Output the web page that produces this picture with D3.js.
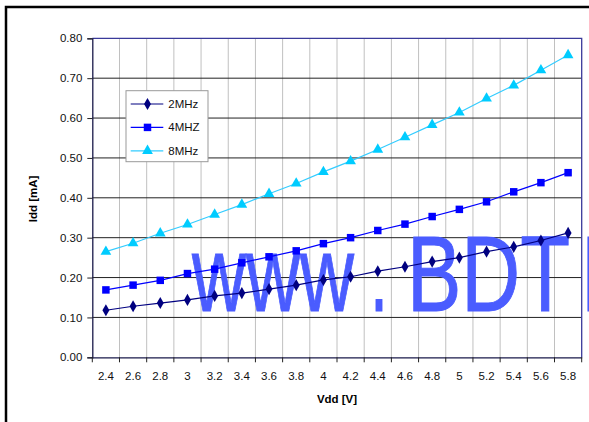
<!DOCTYPE html>
<html><head><meta charset="utf-8">
<script src="https://cdn.jsdelivr.net/npm/d3@7"></script>
<style>
html,body{margin:0;padding:0;background:#fff;}
svg{display:block;font-family:"Liberation Sans",Arial,sans-serif;}
</style></head>
<body>
<svg id="chart" width="589" height="422"></svg>
<script>
const categories = ["2.4","2.6","2.8","3","3.2","3.4","3.6","3.8","4","4.2","4.4","4.6","4.8","5","5.2","5.4","5.6","5.8"];
const series2MHz = [0.118,0.128,0.136,0.144,0.154,0.161,0.171,0.181,0.194,0.202,0.216,0.227,0.240,0.250,0.265,0.277,0.293,0.312];
const series4MHz = [0.169,0.181,0.193,0.210,0.221,0.237,0.252,0.267,0.285,0.300,0.318,0.334,0.353,0.371,0.390,0.415,0.438,0.463];
const series8MHz = [0.265,0.286,0.311,0.333,0.358,0.383,0.410,0.436,0.465,0.492,0.521,0.552,0.583,0.614,0.649,0.682,0.720,0.758];
const seriesNames = ["2MHz","4MHZ","8MHz"];
const yTicks = [0,0.1,0.2,0.3,0.4,0.5,0.6,0.7,0.8];
const xTitle = "Vdd [V]";
const yTitle = "Idd [mA]";
const watermarkParts = ["www", ".", "BDT", "I"];

const svg = d3.select("#chart");
const L = 92.3, R = 581.7, T = 38.3, B = 357.3;
const x = d3.scaleBand().domain(categories).range([L, R]).padding(0);
const y = d3.scaleLinear().domain([0, 0.8]).range([B, T]);

// outer frame
svg.append("rect").attr("x",6).attr("y",7).attr("width",600).attr("height",430)
  .attr("fill","none").attr("stroke","#000").attr("stroke-width",2.5);

// vertical gridlines at category boundaries
svg.append("g").selectAll("line").data(categories.slice(1)).join("line")
  .attr("x1", d => x(d)).attr("x2", d => x(d)).attr("y1", T).attr("y2", B)
  .attr("stroke","#c0c0c0").attr("stroke-width",1);

// horizontal gridlines
svg.append("g").selectAll("line").data(yTicks.slice(1, -1)).join("line")
  .attr("x1", L).attr("x2", R).attr("y1", d => y(d)).attr("y2", d => y(d))
  .attr("stroke","#222").attr("stroke-width",1);

// watermark
const wmLayout = [
  {x: 192, len: 162},
  {x: 370, len: 18},
  {x: 407, len: 163},
  {x: 578, len: 30}
];
const wm = svg.append("g").attr("fill", "#4a5cff").attr("stroke", "#4a5cff").attr("stroke-width", 1)
  .attr("font-size", 108).attr("font-family", "Liberation Sans, Arial, sans-serif");
watermarkParts.forEach((t, i) => {
  wm.append("text").text(t).attr("x", wmLayout[i].x).attr("y", 310.5)
    .attr("textLength", wmLayout[i].len).attr("lengthAdjust", "spacingAndGlyphs");
});

// plot border top/right
svg.append("path").attr("d", `M${L},${T}H${R}V${B}`).attr("fill","none")
  .attr("stroke","#3a3a9a").attr("stroke-width",1.3);

// y axis
const yAxis = svg.append("g").attr("transform", `translate(${L},0)`)
  .call(d3.axisLeft(y).tickValues(yTicks).tickFormat(d3.format(".2f")).tickSize(5).tickPadding(5));
yAxis.select(".domain").attr("stroke","#1a1a4a").attr("stroke-width",1.3);
yAxis.selectAll(".tick line").attr("stroke","#222");
yAxis.selectAll("text").attr("font-size",11.5).attr("fill","#111").attr("font-family","Liberation Sans, Arial, sans-serif");

// x axis: labels at centers, ticks at boundaries
const xAxis = svg.append("g").attr("transform", `translate(0,${B})`)
  .call(d3.axisBottom(x).tickSize(0).tickPadding(15));
xAxis.select(".domain").attr("stroke","#1a1a4a").attr("stroke-width",1.3);
xAxis.selectAll("text").attr("font-size",11.5).attr("fill","#111").attr("font-family","Liberation Sans, Arial, sans-serif");
svg.append("g").selectAll("line").data(categories.concat(["end"])).join("line")
  .attr("x1", (d,i) => i < categories.length ? x(d) : R)
  .attr("x2", (d,i) => i < categories.length ? x(d) : R)
  .attr("y1", B).attr("y2", B + 5).attr("stroke","#222");

// titles
svg.append("text").text(xTitle).attr("x", 337).attr("y", 403)
  .attr("text-anchor","middle").attr("font-size",11.5).attr("font-weight","bold");
svg.append("text").text(yTitle).attr("transform","translate(37,199) rotate(-90)")
  .attr("text-anchor","middle").attr("font-size",11.5).attr("font-weight","bold");

const cx = d => x(d) + x.bandwidth()/2;
const series = [
  {name: seriesNames[0], values: series2MHz, line: "#000080", fill: "#000080", sym: d3.symbolDiamond, size: 42},
  {name: seriesNames[1], values: series4MHz, line: "#0000ff", fill: "#0000ff", sym: d3.symbolSquare, size: 56},
  {name: seriesNames[2], values: series8MHz, line: "#33ccff", fill: "#00ccff", sym: d3.symbolTriangle, size: 50}
];
const line = d3.line().x((d,i) => cx(categories[i])).y(d => y(d));
series.forEach(s => {
  svg.append("path").datum(s.values).attr("d", line).attr("fill","none")
    .attr("stroke", s.line).attr("stroke-width",1.2);
  svg.append("g").selectAll("path").data(s.values).join("path")
    .attr("d", d3.symbol().type(s.sym).size(s.size))
    .attr("transform", (d,i) => `translate(${cx(categories[i])},${y(d)})`)
    .attr("fill", s.fill);
});

// legend
const lg = svg.append("g");
lg.append("rect").attr("x",126).attr("y",90.7).attr("width",82).attr("height",71)
  .attr("fill","#fff").attr("stroke","#999").attr("stroke-width",1);
series.forEach((s, i) => {
  const yy = 104 + i * 23.4;
  lg.append("line").attr("x1",130.7).attr("x2",163.3).attr("y1",yy).attr("y2",yy)
    .attr("stroke", s.line).attr("stroke-width",1.2);
  lg.append("path").attr("d", d3.symbol().type(s.sym).size(s.size))
    .attr("transform", `translate(147.5,${yy})`).attr("fill", s.fill);
  lg.append("text").text(s.name).attr("x",168.3).attr("y",yy+4).attr("font-size",11.5).attr("fill","#111");
});
</script>
</body></html>
